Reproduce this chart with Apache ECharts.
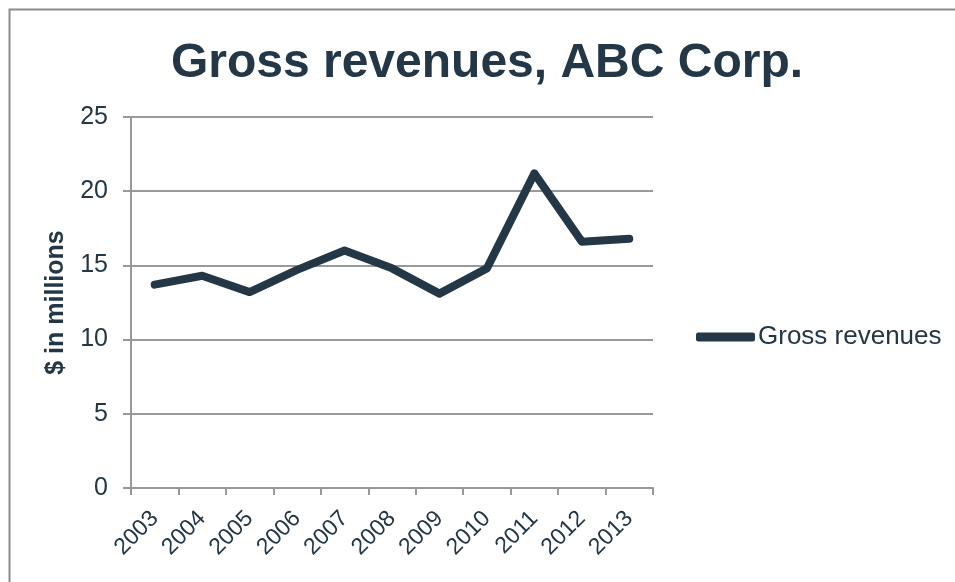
<!DOCTYPE html>
<html>
<head>
<meta charset="utf-8">
<script src="https://cdn.jsdelivr.net/npm/echarts@6/dist/echarts.min.js"></script>
<style>html,body{margin:0;padding:0;background:#fff;}#c{width:955px;height:582px;}</style>
</head>
<body>
<div id="c"></div>
<script>
var categories = ['2003','2004','2005','2006','2007','2008','2009','2010','2011','2012','2013'];
var grossRevenues = [13.7, 14.3, 13.2, 14.7, 16.0, 14.8, 13.1, 14.8, 21.2, 16.6, 16.8];
var yTicks = [0, 5, 10, 15, 20, 25];
var seriesName = 'Gross revenues';
var titleText = 'Gross revenues, ABC Corp.';
var yAxisName = '$ in millions';

var dark = '#243746';
var gridColor = '#999999';
var font = 'Liberation Sans, Arial, sans-serif';
var chart = echarts.init(document.getElementById('c'), null, {renderer: 'canvas'});
chart.setOption({
  animation: false,
  backgroundColor: '#ffffff',
  graphic: [{
    type: 'rect', left: 7, top: 7, z: -1,
    shape: {x: 0, y: 0, width: 1000, height: 1000},
    style: {fill: 'none', stroke: '#8c8c8c', lineWidth: 2}
  }],
  title: {
    text: titleText, left: 482, top: 35, textAlign: 'center',
    textStyle: {fontFamily: font, fontSize: 48, fontWeight: 'bold', color: dark}
  },
  legend: {
    data: [seriesName], left: 691, top: 319, itemWidth: 59, itemHeight: 9, itemGap: 0,
    icon: 'roundRect',
    textStyle: {fontFamily: font, fontSize: 26, color: dark, padding: [0,0,0,-2]}
  },
  grid: {left: 131, right: 302, top: 117, bottom: 94, containLabel: false},
  xAxis: {
    type: 'category', data: categories, boundaryGap: true,
    axisLine: {lineStyle: {color: gridColor, width: 2}},
    axisTick: {show: true, length: 7, interval: 0, lineStyle: {color: gridColor, width: 2}},
    axisLabel: {rotate: 45, interval: 0, fontFamily: font, fontSize: 23, color: dark, margin: 27}
  },
  yAxis: {
    type: 'value', min: 0, max: 25, interval: 5,
    name: yAxisName, nameLocation: 'middle', nameGap: 62, nameRotate: 90,
    nameTextStyle: {fontFamily: font, fontSize: 25, fontWeight: 'bold', color: dark},
    axisLine: {show: true, lineStyle: {color: gridColor, width: 2}},
    axisTick: {show: true, length: 8, lineStyle: {color: gridColor, width: 2}},
    axisLabel: {fontFamily: font, fontSize: 25, color: dark, margin: 23,
      formatter: function(v){ return yTicks.indexOf(v) >= 0 ? String(v) : ''; }},
    splitLine: {show: true, lineStyle: {color: gridColor, width: 2}}
  },
  series: [{
    name: seriesName, type: 'line', data: grossRevenues,
    showSymbol: false, symbol: 'none',
    lineStyle: {color: dark, width: 8, cap: 'round', join: 'round'},
    itemStyle: {color: dark}
  }]
});
</script>
</body>
</html>
